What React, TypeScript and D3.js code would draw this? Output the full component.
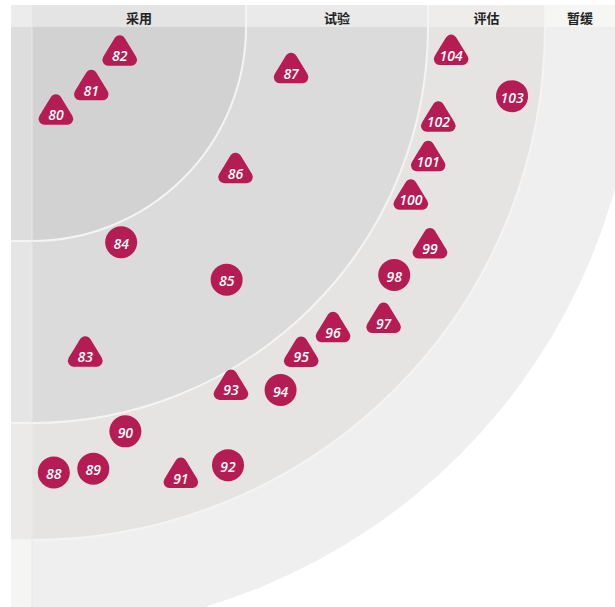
import * as d3 from "d3";

// Quadrant geometry
const WIDTH = 615;
const HEIGHT = 607;
const CX = 32;
const CY = 27;
const LEFT = 11;
const TOP = 5;

// Rings
const RING_NAMES = ["采用", "试验", "评估", "暂缓"];
const RING_RADII = [214, 396, 513, 605];
const RING_FILL = ["#d2d2d2", "#dbdbdb", "#e5e4e2", "#efefef"];
const STRIP_FILL = ["#dddddd", "#e5e5e5", "#ebeae9", "#f5f5f4"];
const HEADER_FILL = ["#e4e4e4", "#eaeaea", "#eeedec", "#f6f6f5"];

// Blips: id, distance from centre, angle (deg, 0 = along top edge, 90 = down the left edge), new/moved
const BLIP_IDS = [80, 81, 82, 83, 84, 85, 86, 87, 88, 89, 90, 91, 92, 93, 94, 95, 96, 97, 98, 99, 100, 101, 102, 103, 104];
const BLIP_DIST = [90, 86, 92, 333, 233, 319, 250, 263, 446, 446, 415, 474, 480, 413, 440, 425, 428, 459, 439, 455, 416, 418, 417, 485, 420];
const BLIP_ANGLE = [74.6, 46.4, 17.6, 80.8, 67.5, 52.4, 35.5, 9.9, 87.2, 82.1, 77.0, 71.7, 65.9, 61.2, 55.6, 50.7, 45.3, 40.0, 34.4, 29.0, 24.4, 18.6, 13.0, 8.2, 3.7];
const BLIP_NEW = [true, true, true, true, false, false, true, true, false, false, false, true, false, true, false, true, true, true, false, true, true, true, true, false, true];

const BLIP_COLOR = "#b51c54";

const angle = d3.scaleLinear().domain([0, 90]).range([Math.PI / 2, Math.PI]);

function roundedTriangle(radius: number): string {
  const pts: [number, number][] = [
    [0, -25],
    [22, 11],
    [-22, 11],
  ];
  const p = d3.path();
  const last = pts[pts.length - 1];
  p.moveTo((last[0] + pts[0][0]) / 2, (last[1] + pts[0][1]) / 2);
  for (let i = 0; i < pts.length; i++) {
    const a = pts[i];
    const b = pts[(i + 1) % pts.length];
    p.arcTo(a[0], a[1], b[0], b[1], radius);
  }
  p.closePath();
  return p.toString();
}

export default function App() {
  const arc = d3.arc<{ inner: number; outer: number }>()
    .innerRadius((d) => d.inner)
    .outerRadius((d) => d.outer)
    .startAngle(Math.PI / 2)
    .endAngle(Math.PI);

  const rings = RING_RADII.map((r, i) => ({
    name: RING_NAMES[i],
    inner: i === 0 ? 0 : RING_RADII[i - 1],
    outer: r,
    i,
  }));

  const tri = roundedTriangle(6);

  const blips = BLIP_IDS.map((id, i) => {
    const [x, y] = d3.pointRadial(angle(BLIP_ANGLE[i]), BLIP_DIST[i]);
    return { id, x: CX + x, y: CY + y, isNew: BLIP_NEW[i] };
  });

  return (
    <svg
      width={WIDTH}
      height={HEIGHT}
      style={{ position: "absolute", left: 0, top: 0, background: "#fff" }}
    >
      <defs>
        <clipPath id="frame">
          <rect x={LEFT} y={TOP} width={WIDTH - LEFT} height={HEIGHT - TOP} />
        </clipPath>
      </defs>
      <g clipPath="url(#frame)">
        {/* rings, outermost first */}
        <g transform={`translate(${CX},${CY})`}>
          {[...rings].reverse().map((r) => (
            <path key={r.name} d={arc(r) ?? ""} fill={RING_FILL[r.i]} />
          ))}
          {rings.slice(0, 3).map((r) => (
            <path
              key={"sep" + r.name}
              d={d3.arc()({ innerRadius: r.outer, outerRadius: r.outer, startAngle: Math.PI / 2, endAngle: Math.PI }) ?? ""}
              fill="none"
              stroke="#f4f4f4"
              strokeWidth={2}
            />
          ))}
        </g>

        {/* left strip */}
        {rings.map((r) => (
          <rect
            key={"strip" + r.name}
            x={LEFT}
            y={CY + r.inner}
            width={CX - LEFT}
            height={r.outer - r.inner}
            fill={STRIP_FILL[r.i]}
          />
        ))}
        {rings.slice(0, 3).map((r) => (
          <line
            key={"stripsep" + r.name}
            x1={LEFT}
            x2={CX}
            y1={CY + r.outer}
            y2={CY + r.outer}
            stroke="#f4f4f4"
            strokeWidth={2}
          />
        ))}
        <line x1={CX} x2={CX} y1={TOP} y2={HEIGHT} stroke="#e8e8e8" strokeWidth={1} />

        {/* header */}
        <rect x={LEFT} y={TOP} width={CX - LEFT} height={CY - TOP} fill="#ececec" />
        {rings.map((r) => (
          <rect
            key={"head" + r.name}
            x={CX + r.inner}
            y={TOP}
            width={r.outer - r.inner}
            height={CY - TOP}
            fill={HEADER_FILL[r.i]}
          />
        ))}
        {rings.slice(0, 3).map((r) => (
          <line
            key={"headsep" + r.name}
            x1={CX + r.outer}
            x2={CX + r.outer}
            y1={TOP}
            y2={CY}
            stroke="#f4f4f4"
            strokeWidth={2}
          />
        ))}
        {rings.map((r) => (
          <text
            key={"label" + r.name}
            x={CX + (r.inner + Math.min(r.outer, WIDTH - CX)) / 2}
            y={(TOP + CY) / 2 + 1}
            textAnchor="middle"
            dominantBaseline="central"
            fontFamily="'Noto Sans CJK SC', sans-serif"
            fontWeight={700}
            fontSize={13}
            fill="#222"
          >
            {r.name}
          </text>
        ))}

        {/* blips */}
        {blips.map((b) => (
          <g key={b.id} transform={`translate(${b.x},${b.y})`}>
            {b.isNew ? (
              <path d={tri} fill={BLIP_COLOR} />
            ) : (
              <circle r={16} fill={BLIP_COLOR} />
            )}
            <text
              y={1}
              textAnchor="middle"
              dominantBaseline="central"
              fontFamily="'Open Sans', sans-serif"
              fontStyle="italic"
              fontWeight={600}
              fontSize={14}
              fill="#fff"
            >
              {b.id}
            </text>
          </g>
        ))}
      </g>
    </svg>
  );
}
